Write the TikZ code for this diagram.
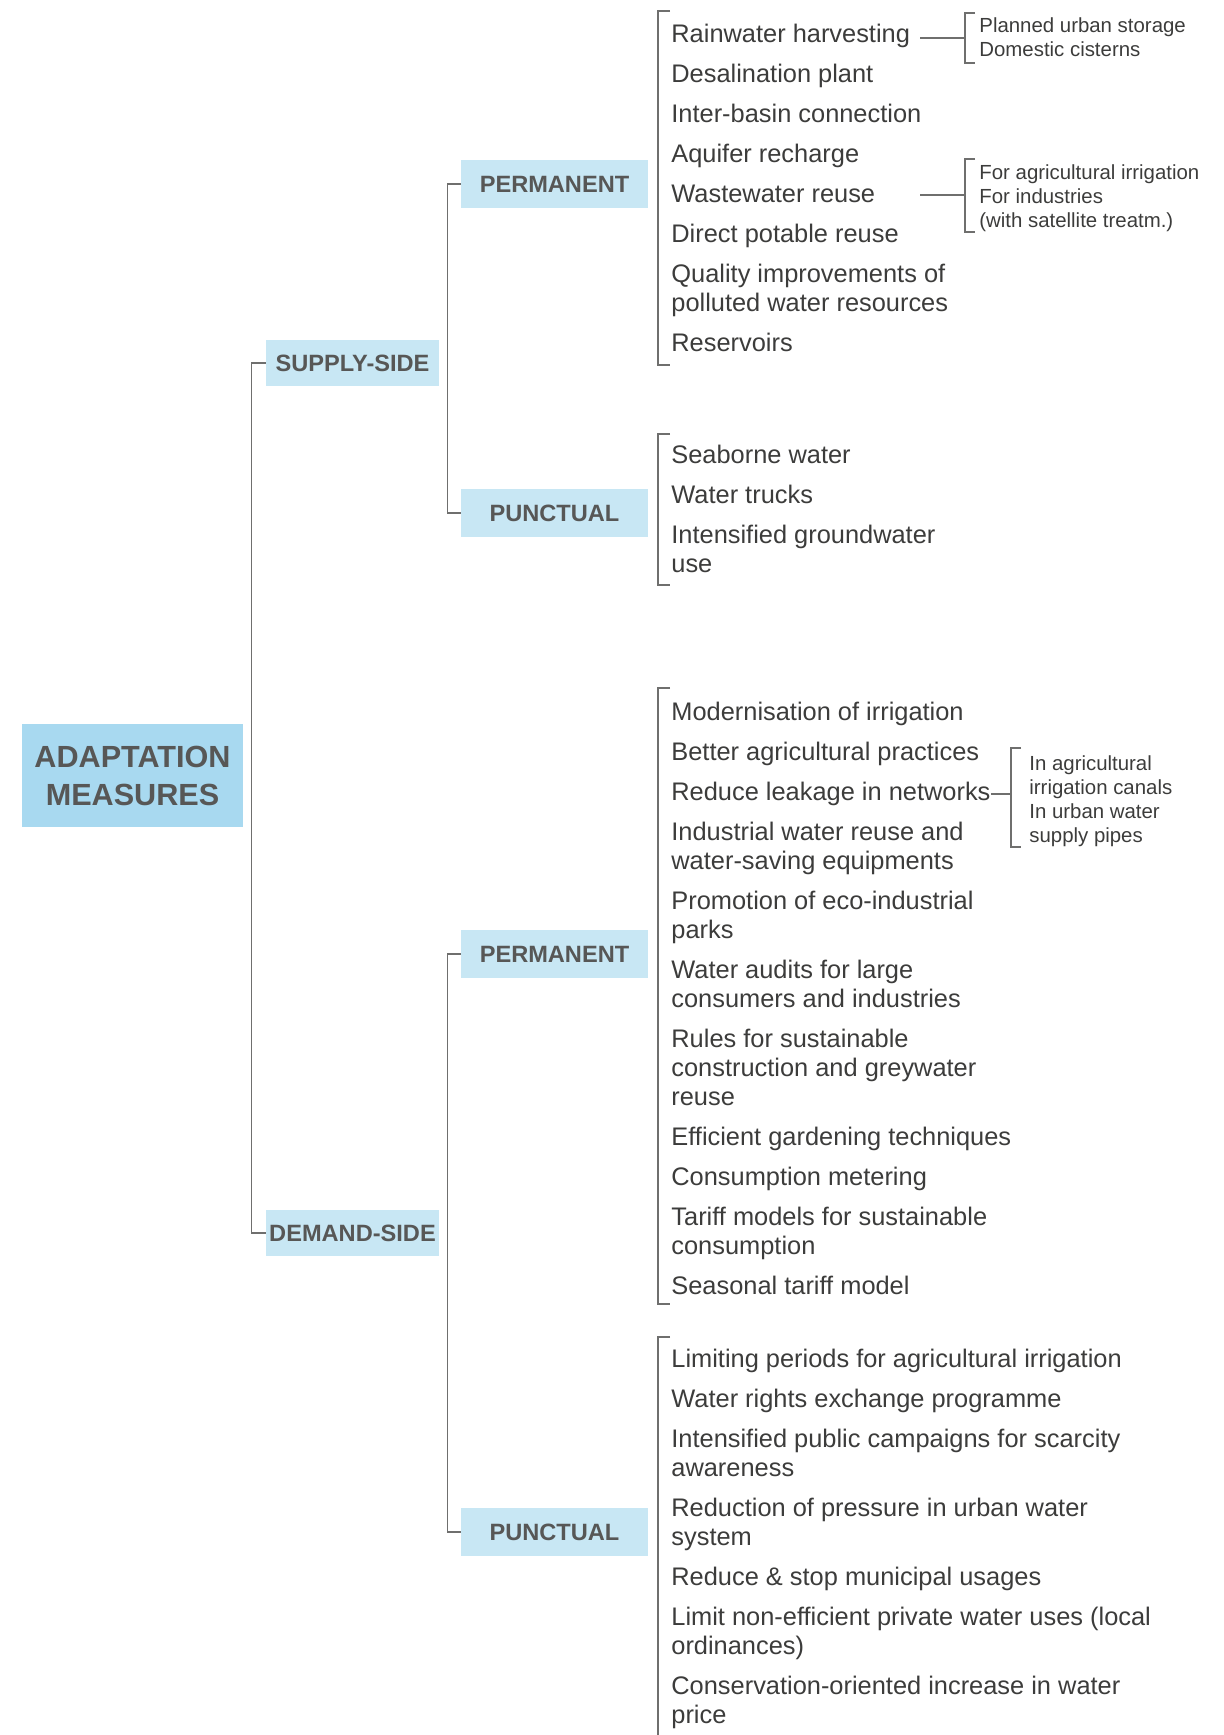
\documentclass[tikz,border=0pt]{standalone}
\usepackage{fontspec}
\setmainfont{Liberation Sans}
\definecolor{boxA}{HTML}{A8D9F0}
\definecolor{boxB}{HTML}{C8E7F4}
\definecolor{lab}{HTML}{575756}
\definecolor{itm}{HTML}{3C3C3B}
\definecolor{ln}{HTML}{6F6F6E}
\begin{document}
\begin{tikzpicture}[x=0.5pt,y=-0.5pt,
  catbox/.style={fill=boxB, text=lab, font=\fontsize{11.8}{14}\selectfont\bfseries, minimum width=86.5pt, minimum height=23pt, inner sep=0pt},
  subbox/.style={catbox, minimum width=93.5pt, minimum height=24pt},
  rootbox/.style={fill=boxA, text=lab, font=\fontsize{15.3}{19}\selectfont\bfseries, minimum width=110.5pt, minimum height=51.5pt, inner sep=0pt, align=center},
  item/.style={anchor=base west, inner sep=0pt, text=itm, font=\fontsize{12.7}{14.5}\selectfont, align=left},
  subitem/.style={anchor=base west, inner sep=0pt, text=itm, font=\fontsize{10.2}{12}\selectfont, align=left},
  conn/.style={draw=ln, line width=0.8pt},
  brk/.style={draw=ln, line width=0.7pt}]
\useasboundingbox (0,0) rectangle (1224,1735);

% boxes
\node[rootbox] (am) at (132.5,775.5) {ADAPTATION\\MEASURES};
\node[catbox] (supply) at (352.5,363) {SUPPLY-SIDE};
\node[catbox] (demand) at (352.5,1233) {DEMAND-SIDE};
\node[subbox] (sperm) at (554.5,184) {PERMANENT};
\node[subbox] (spunc) at (554.5,513) {PUNCTUAL};
\node[subbox] (dperm) at (554.5,954) {PERMANENT};
\node[subbox] (dpunc) at (554.5,1532) {PUNCTUAL};

% tree connectors
\draw[conn] (supply.west) -- ++(-14,0) |- (demand.west);
\draw[conn] (sperm.west) -- ++(-13,0) |- (spunc.west);
\draw[conn] (dperm.west) -- ++(-13,0) |- (dpunc.west);

% supply permanent items (multi-line nodes are placed by the baseline of their last line)
\node[item] (sp1) at (671,42) {Rainwater harvesting};
\node[item] (sp2) at (671,82) {Desalination plant};
\node[item] (sp3) at (671,122) {Inter-basin connection};
\node[item] (sp4) at (671,162) {Aquifer recharge};
\node[item] (sp5) at (671,202) {Wastewater reuse};
\node[item] (sp6) at (671,242) {Direct potable reuse};
\node[item] (sp7) at (671,311) {Quality improvements of\\polluted water resources};
\node[item] (sp8) at (671,351) {Reservoirs};
\draw[brk] (670,11) -- (658,11) -- (658,365) -- (670,365);

% supply punctual items
\node[item] (su1) at (671,463) {Seaborne water};
\node[item] (su2) at (671,503) {Water trucks};
\node[item] (su3) at (671,572) {Intensified groundwater\\use};
\draw[brk] (670,434) -- (658,434) -- (658,585) -- (670,585);

% demand permanent items
\node[item] (dp1) at (671,720) {Modernisation of irrigation};
\node[item] (dp2) at (671,760) {Better agricultural practices};
\node[item] (dp3) at (671,800) {Reduce leakage in networks};
\node[item] (dp4) at (671,869) {Industrial water reuse and\\water-saving equipments};
\node[item] (dp5) at (671,938) {Promotion of eco-industrial\\parks};
\node[item] (dp6) at (671,1007) {Water audits for large\\consumers and industries};
\node[item] (dp7) at (671,1105) {Rules for sustainable\\construction and greywater\\reuse};
\node[item] (dp8) at (671,1145) {Efficient gardening techniques};
\node[item] (dp9) at (671,1185) {Consumption metering};
\node[item] (dp10) at (671,1254) {Tariff models for sustainable\\consumption};
\node[item] (dp11) at (671,1294) {Seasonal tariff model};
\draw[brk] (670,688) -- (658,688) -- (658,1304) -- (670,1304);

% demand punctual items
\node[item] (du1) at (671,1367) {Limiting periods for agricultural irrigation};
\node[item] (du2) at (671,1407) {Water rights exchange programme};
\node[item] (du3) at (671,1476) {Intensified public campaigns for scarcity\\awareness};
\node[item] (du4) at (671,1545) {Reduction of pressure in urban water\\system};
\node[item] (du5) at (671,1585) {Reduce \& stop municipal usages};
\node[item] (du6) at (671,1654) {Limit non-efficient private water uses (local\\ordinances)};
\node[item] (du7) at (671,1723) {Conservation-oriented increase in water\\price};
\draw[brk] (670,1337) -- (658,1337) -- (658,1740);

% sub-brackets
\coordinate (b1) at (965,38);
\coordinate (b2) at (965,195);
\coordinate (b3) at (1011,794);
\draw[conn] (920,38) -- (b1);
\draw[conn] (920,195) -- (b2);
\draw[conn] (dp3.east |- b3) -- (b3);
\draw[brk] (975,13) -- (965,13) -- (965,63) -- (975,63);
\draw[brk] (975,159) -- (965,159) -- (965,232) -- (975,232);
\draw[brk] (1021,748) -- (1011,748) -- (1011,847) -- (1021,847);
\node[subitem] (s1) at (979,56) {Planned urban storage\\Domestic cisterns};
\node[subitem] (s2) at (979,227) {For agricultural irrigation\\For industries\\(with satellite treatm.)};
\node[subitem] (s3) at (1029,842) {In agricultural\\irrigation canals\\In urban water\\supply pipes};
\end{tikzpicture}
\end{document}
